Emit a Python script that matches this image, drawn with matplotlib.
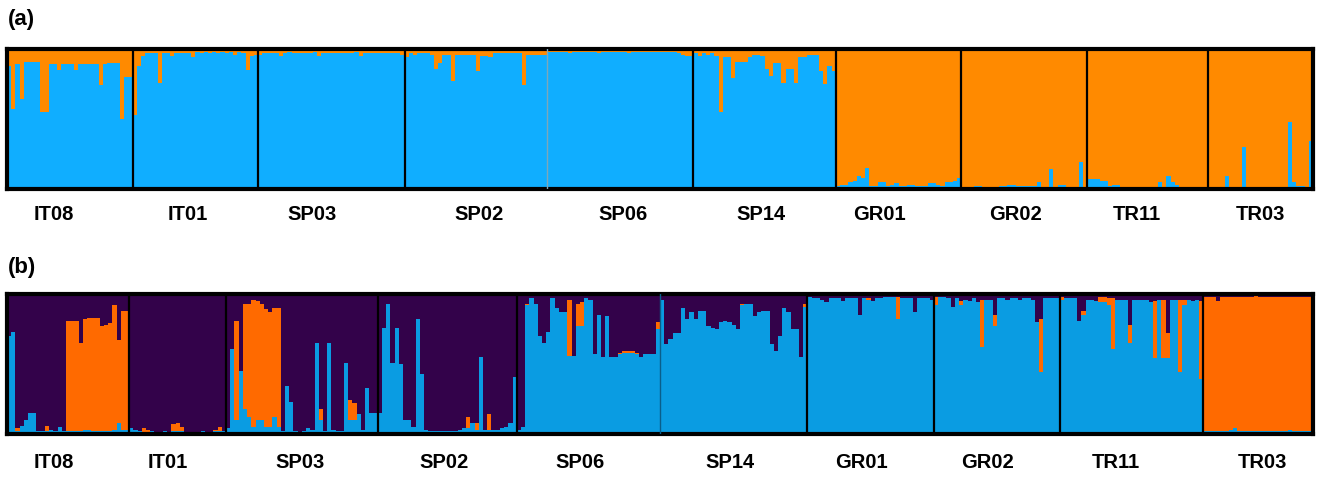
import matplotlib
matplotlib.use("Agg")
import matplotlib.pyplot as plt
import numpy as np

pops = ["IT08", "IT01", "SP03", "SP02", "SP06", "SP14", "GR01", "GR02", "TR11", "TR03"]

# ---------------- panel (a): K=2, blue membership (%) per individual; orange = rest
a_blue = [
    [88, 57, 89, 64, 91, 91, 91, 91, 55, 55, 89, 89, 85, 89, 89, 89, 85, 89, 89, 89, 89, 89, 74, 89, 90, 90, 90, 50, 80, 80],  # IT08
    [53, 88, 95, 97, 97, 97, 76, 97, 97, 95, 97, 97, 97, 97, 94, 98, 97, 98, 97, 98, 97, 98, 97, 98, 96, 98, 97, 85, 95, 96],  # IT01
    [96, 97, 97, 97, 97, 95, 97, 98, 97, 97, 97, 97, 97, 98, 95, 97, 97, 97, 97, 97, 97, 97, 97, 98, 95, 97, 97, 97, 97, 97, 97, 97, 97, 97, 96],  # SP03
    [94, 97, 96, 97, 97, 97, 96, 86, 90, 96, 96, 77, 96, 96, 96, 96, 96, 84, 95, 95, 94, 97, 97, 97, 97, 97, 97, 97, 74, 96, 96, 96, 96, 96],  # SP02
    [98, 98, 98, 98, 98, 97, 98, 98, 98, 98, 98, 98, 97, 98, 98, 98, 98, 98, 98, 97, 98, 98, 98, 98, 98, 98, 98, 98, 98, 98, 98, 97, 96, 95, 95],  # SP06
    [97, 95, 97, 96, 97, 95, 55, 94, 94, 79, 91, 91, 91, 94, 96, 96, 95, 86, 81, 90, 90, 76, 86, 86, 76, 94, 94, 96, 96, 96, 84, 75, 88, 84],  # SP14
    [2, 3, 3, 5, 6, 9, 8, 15, 2, 2, 5, 5, 2, 3, 4, 2, 2, 3, 3, 2, 2, 2, 4, 4, 3, 2, 5, 5, 6, 8],  # GR01
    [1, 1, 1, 2, 2, 1, 1, 1, 1, 2, 2, 3, 3, 2, 2, 2, 2, 2, 5, 1, 1, 14, 1, 3, 3, 1, 1, 1, 19, 1],  # GR02
    [7, 7, 7, 6, 6, 2, 3, 3, 1, 1, 1, 1, 1, 1, 1, 1, 1, 5, 1, 9, 5, 3, 1, 1, 1, 1, 1, 1, 1],  # TR11
    [1, 1, 1, 1, 9, 1, 1, 1, 30, 1, 1, 1, 1, 1, 1, 1, 1, 1, 1, 48, 5, 2, 2, 1, 34],  # TR03
]

# ---------------- panel (b): K=3, blue and orange membership (%); purple = rest
b_blue = [
    [70, 73, 2, 6, 10, 15, 15, 2, 2, 2, 3, 2, 5, 2, 2, 2, 2, 2, 3, 3, 2, 2, 2, 2, 2, 3, 8, 3, 3],  # IT08
    [4, 3, 2, 1, 1, 2, 1, 1, 2, 1, 2, 2, 2, 1, 1, 1, 1, 2, 1, 1, 2, 2, 2],  # IT01
    [4, 61, 10, 45, 18, 12, 5, 10, 10, 5, 5, 12, 5, 2, 34, 23, 2, 1, 2, 4, 3, 65, 10, 2, 65, 3, 2, 2, 51, 10, 10, 14, 3, 33, 15, 15],  # SP03
    [15, 76, 93, 51, 76, 50, 10, 10, 5, 82, 43, 3, 2, 2, 2, 2, 2, 2, 2, 3, 4, 4, 8, 3, 55, 3, 3, 3, 3, 4, 5, 8, 41],  # SP02
    [3, 5, 92, 97, 93, 70, 65, 73, 97, 90, 87, 87, 56, 56, 77, 77, 97, 96, 57, 85, 55, 84, 55, 55, 57, 58, 58, 58, 57, 55, 57, 57, 57, 75],  # SP06
    [96, 64, 68, 72, 72, 90, 82, 87, 82, 88, 88, 77, 76, 75, 80, 81, 80, 78, 75, 92, 93, 93, 84, 87, 88, 88, 64, 59, 70, 90, 87, 75, 75, 55, 91],  # SP14
    [98, 97, 97, 96, 94, 97, 97, 97, 95, 97, 97, 97, 85, 97, 96, 95, 97, 97, 98, 98, 98, 82, 97, 97, 97, 87, 97, 97, 97, 96],  # GR01
    [92, 98, 98, 97, 91, 97, 92, 96, 95, 97, 94, 62, 96, 96, 77, 97, 97, 96, 97, 97, 96, 97, 97, 96, 80, 44, 97, 97, 97, 97],  # GR02
    [96, 97, 97, 97, 81, 85, 96, 96, 95, 94, 94, 92, 61, 96, 96, 96, 65, 96, 96, 96, 96, 94, 54, 96, 54, 54, 96, 96, 44, 92, 96, 95, 96, 39],  # TR11
    [2, 2, 2, 2, 2, 2, 3, 4, 2, 2, 2, 2, 2, 2, 2, 2, 2, 2, 2, 2, 3, 2, 2, 2, 2, 2],  # TR03
]
b_orange = [
    [0, 0, 2, 0, 0, 0, 0, 0, 0, 4, 0, 0, 0, 0, 79, 79, 79, 63, 79, 80, 81, 81, 75, 76, 77, 89, 59, 85, 85],  # IT08
    [0, 0, 0, 3, 2, 0, 0, 0, 0, 0, 5, 6, 3, 0, 0, 0, 0, 0, 0, 0, 1, 3, 0],  # IT01
    [0, 0, 71, 0, 75, 81, 91, 85, 83, 84, 82, 78, 85, 0, 0, 0, 0, 0, 0, 0, 0, 0, 8, 0, 0, 0, 0, 0, 0, 14, 12, 0, 0, 0, 0, 0],  # SP03
    [0, 0, 0, 0, 0, 0, 0, 0, 0, 0, 0, 0, 0, 0, 0, 0, 0, 0, 0, 0, 0, 8, 0, 5, 0, 0, 11, 0, 0, 0, 0, 0, 0],  # SP02
    [0, 0, 1, 0, 0, 0, 0, 0, 0, 0, 0, 0, 40, 0, 16, 17, 0, 0, 0, 0, 0, 0, 0, 0, 1, 1, 1, 1, 1, 0, 0, 0, 0, 5],  # SP06
    [0, 0, 0, 0, 0, 0, 0, 0, 0, 0, 0, 0, 0, 0, 0, 0, 0, 0, 0, 1, 0, 0, 0, 0, 0, 0, 0, 0, 0, 0, 0, 0, 0, 0, 2],  # SP14
    [0, 0, 0, 0, 0, 0, 0, 0, 0, 0, 0, 0, 0, 0, 1, 0, 0, 0, 0, 0, 0, 16, 0, 0, 0, 0, 0, 0, 0, 0],  # GR01
    [6, 0, 0, 0, 0, 0, 3, 0, 0, 0, 0, 34, 0, 0, 8, 0, 0, 0, 0, 0, 0, 0, 0, 0, 0, 38, 0, 0, 0, 0],  # GR02
    [2, 0, 0, 0, 0, 3, 0, 0, 0, 4, 4, 5, 36, 0, 0, 0, 13, 0, 0, 0, 0, 0, 41, 0, 42, 18, 0, 0, 52, 4, 0, 0, 0, 56],  # TR11
    [96, 96, 96, 93, 96, 96, 95, 94, 96, 96, 96, 96, 97, 96, 96, 96, 96, 96, 96, 96, 95, 96, 96, 96, 96, 96],  # TR03
]

# ---------------- layout / style (not data)
W, H = 1325, 479
A_BLUE, A_ORANGE = "#10AEFF", "#FF8A00"
B_BLUE, B_ORANGE, B_PURPLE = "#0A9CE2", "#FF6A00", "#33024A"
a_label_px = [54, 188, 312, 479, 623, 761, 879, 1015, 1137, 1260]
b_label_px = [54, 168, 300, 444, 580, 730, 861, 987, 1116, 1262]
a_soft_boundary = {3}   # boundary after SP02 drawn faint
b_soft_boundary = {4}   # boundary after SP06 drawn faint

fig = plt.figure(figsize=(W / 100, H / 100), dpi=100)
fig.patch.set_facecolor("white")

X0, X1 = 7 / W, 1313 / W


def make_ax(top_px, bot_px):
    return fig.add_axes([X0, 1 - bot_px / H, X1 - X0, (bot_px - top_px) / H])


def finish(ax, sizes, soft, label_px, label_y_px, soft_color):
    n = sum(sizes)
    ax.set_xlim(-0.5, n - 0.5)
    ax.set_ylim(0, 1)
    ax.set_xticks([])
    ax.set_yticks([])
    for s in ax.spines.values():
        s.set_linewidth(3)
        s.set_color("black")
    cum = np.cumsum(sizes)[:-1]
    for i, c in enumerate(cum):
        if i in soft:
            ax.axvline(c - 0.5, color=soft_color, lw=1.0, zorder=3)
        else:
            ax.axvline(c - 0.5, color="black", lw=1.6, zorder=3)
    for name, px in zip(pops, label_px):
        fig.text(px / W, 1 - label_y_px / H, name, ha="center", va="center",
                 fontsize=14.5, fontweight="bold", family="Liberation Sans")


def stacked(ax, x, parts):
    bottom = np.zeros(len(x))
    for vals, col in parts:
        ax.bar(x, vals, bottom=bottom, width=1.0, color=col, linewidth=0,
               antialiased=False)
        bottom = bottom + vals


# ---- panel (a)
axa = make_ax(49, 189)
a_sizes = [len(v) for v in a_blue]
ab = np.concatenate([np.array(v, float) for v in a_blue]) / 100
ao = 1 - ab
stacked(axa, np.arange(len(ab)), [(ab, A_BLUE), (ao, A_ORANGE)])
finish(axa, a_sizes, a_soft_boundary, a_label_px, 214, "#7FA7B8")

# ---- panel (b)
axb = make_ax(294, 434)
b_sizes = [len(v) for v in b_blue]
bb = np.concatenate([np.array(v, float) for v in b_blue]) / 100
bo = np.concatenate([np.array(v, float) for v in b_orange]) / 100
bp = 1 - bb - bo
stacked(axb, np.arange(len(bb)), [(bb, B_BLUE), (bo, B_ORANGE), (bp, B_PURPLE)])
finish(axb, b_sizes, b_soft_boundary, b_label_px, 463, "#0A5E8A")

fig.text(8 / W, 1 - 19 / H, "(a)", ha="left", va="center", fontsize=16,
         fontweight="bold", family="Liberation Sans")
fig.text(8 / W, 1 - 268 / H, "(b)", ha="left", va="center", fontsize=16,
         fontweight="bold", family="Liberation Sans")

fig.savefig("out.png", dpi=100, facecolor="white")
